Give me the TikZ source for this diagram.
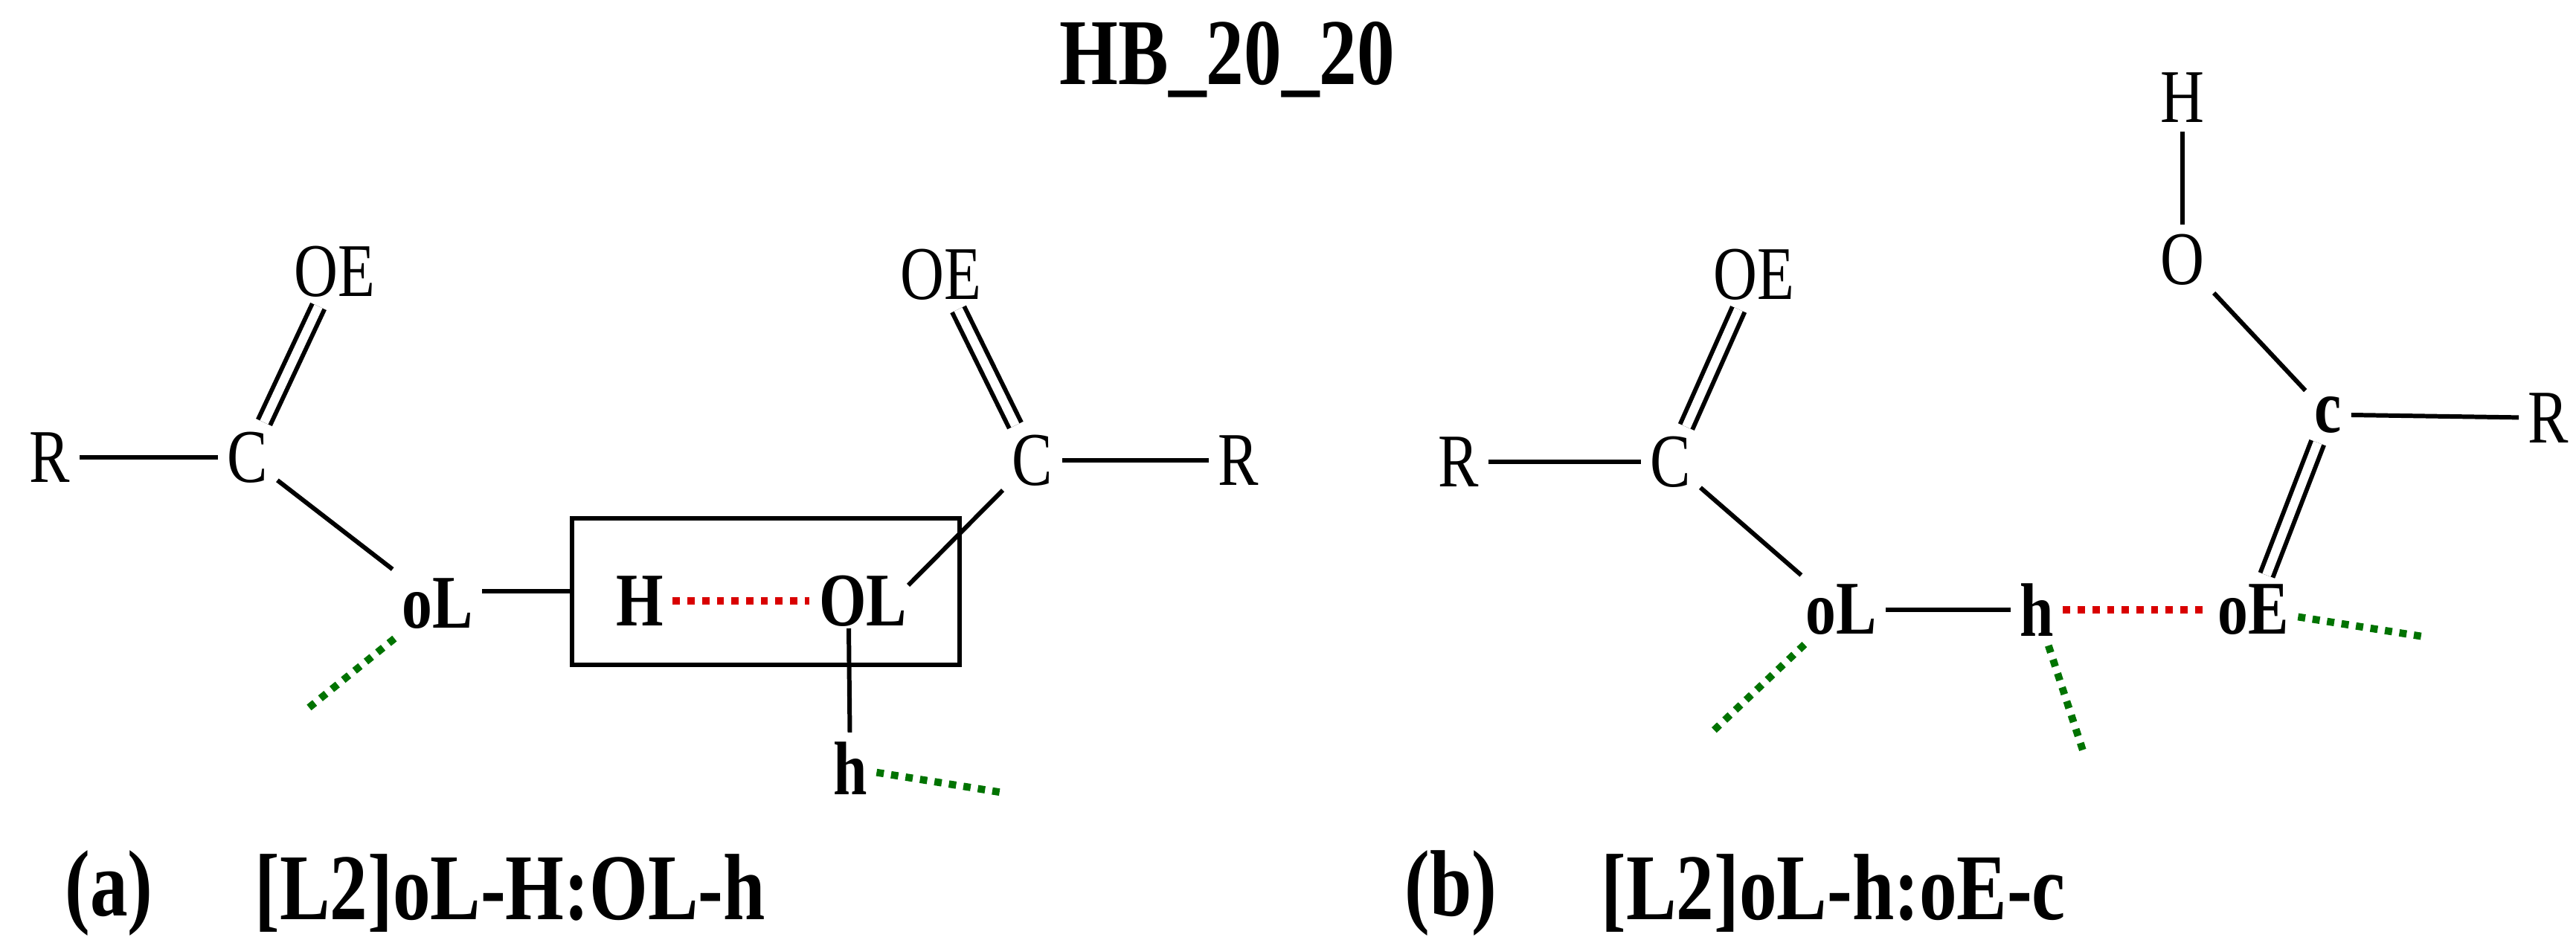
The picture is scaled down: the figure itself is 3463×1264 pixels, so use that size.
\documentclass[tikz,border=0pt]{standalone}
\usepackage{fontspec}
\setmainfont{Liberation Serif}
\newfontfamily\narrowserif[FakeStretch=0.8]{Liberation Serif}
\usetikzlibrary{positioning}
\begin{document}
\begin{tikzpicture}[
    x=0.01cm, y=-0.01cm,
    atom/.style={inner sep=0.12cm, font=\narrowserif\fontsize{29}{29}\selectfont},
    batom/.style={inner sep=0.12cm, font=\narrowserif\fontsize{29}{29}\selectfont\bfseries},
    caption/.style={anchor=west, font=\narrowserif\fontsize{36}{36}\selectfont\bfseries},
    bond/.style={line width=1.7pt},
    dbond/.style={line width=1.7pt, double, double distance=0.12cm},
    hbond/.style={line width=2.8pt, red!85!black, dash pattern=on 2.8pt off 2.8pt},
    vdw/.style={line width=2.8pt, green!45!black, dash pattern=on 2.8pt off 2.8pt}
  ]
  \useasboundingbox (0,0) rectangle (3463,1264);

  % title
  \node[font=\narrowserif\fontsize{36}{36}\selectfont\bfseries] (title) at (1650,80) {HB\_20\_20};

  % (a) left acid
  \node[atom] (rA) at (67,615) {R};
  \node[atom] (cA) at (333,615) {C};
  \node[atom] (oeA) at (450,365) {OE};
  \node[batom] (olA) at (588,812) {oL};
  % (a) right acid
  \node[batom] (hA) at (860,808) {H};
  \node[batom] (OLA) at (1160,808) {OL};
  \node[atom] (cB) at (1388,619) {C};
  \node[atom] (oeB) at (1265,369) {OE};
  \node[atom] (rB) at (1665,619) {R};
  \node[batom] (hB) at (1143,1033) {h};
  \node[draw, line width=1.7pt, minimum width=5.21cm, minimum height=1.97cm] (box) at (1029.5,795.5) {};

  \coordinate (vA1) at (411,955);
  \coordinate (vA2) at (1349,1066);

  \draw[bond] (rA) -- (cA);
  \draw[dbond] (cA) -- (oeA);
  \draw[bond] (cA) -- (olA);
  \draw[bond] (olA.east |- 0,795) -- (box.west |- 0,795);
  \draw[hbond] (hA) -- (OLA);
  \draw[bond] (cB) -- (1221,787);
  \draw[dbond] (cB) -- (oeB);
  \draw[bond] (cB) -- (rB);
  \draw[bond] (1141,845) -- (hB);
  \draw[vdw] (olA) -- (vA1);
  \draw[vdw] (hB) -- (vA2);

  \node[caption] (capa) at (75,1201) {(a)};
  \node[caption] (laba) at (330,1201) {[L2]oL-H:OL-h};

  % (b) left acid
  \node[atom] (rC) at (1961,621) {R};
  \node[atom] (cC) at (2246,621) {C};
  \node[atom] (oeC) at (2358,369) {OE};
  \node[batom] (olC) at (2475,820) {oL};
  \node[batom] (hC) at (2738,820) {h};
  % (b) right acid
  \node[batom] (oeD) at (3029,820) {oE};
  \node[batom] (cD) at (3130,558) {c};
  \node[atom] (rD) at (3426,562) {R};
  \node[atom] (oD) at (2934,349) {O};
  \node[atom] (hD) at (2934,131) {H};

  \coordinate (vC1) at (2302,984);
  \coordinate (vC2) at (2800,1009);
  \coordinate (vC3) at (3264,857);

  \draw[bond] (rC) -- (cC);
  \draw[dbond] (cC) -- (oeC);
  \draw[bond] (cC) -- (olC);
  \draw[bond] (olC) -- (hC);
  \draw[hbond] (hC) -- (oeD);
  \draw[dbond] (cD) -- (oeD);
  \draw[bond] (cD.east) -- (rD);
  \draw[bond] (oD) -- (cD);
  \draw[bond] (hD) -- (oD);
  \draw[vdw] (olC) -- (vC1);
  \draw[vdw] (hC) -- (vC2);
  \draw[vdw] (oeD) -- (vC3);

  \node[caption] (capb) at (1876,1201) {(b)};
  \node[caption] (labb) at (2140,1201) {[L2]oL-h:oE-c};
\end{tikzpicture}
\end{document}
